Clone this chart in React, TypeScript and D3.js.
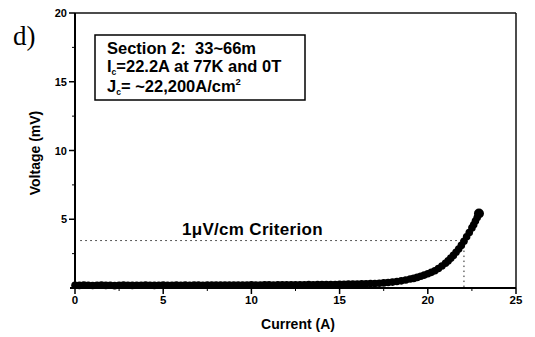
import React from "react";
import * as d3 from "d3";

const current: number[] = [
  0, 0.25, 0.5, 0.75, 1, 1.25, 1.5, 1.75, 2, 2.25, 2.5, 2.75, 3, 3.25, 3.5, 3.75,
  4, 4.25, 4.5, 4.75, 5, 5.25, 5.5, 5.75, 6, 6.25, 6.5, 6.75, 7, 7.25, 7.5, 7.75,
  8, 8.25, 8.5, 8.75, 9, 9.25, 9.5, 9.75, 10, 10.25, 10.5, 10.75, 11, 11.25, 11.5, 11.75,
  12, 12.25, 12.5, 12.75, 13, 13.25, 13.5, 13.75, 14, 14.25, 14.5, 14.75, 15, 15.25, 15.5, 15.75,
  16, 16.25, 16.5, 16.75, 17, 17.25, 17.5, 17.75, 18, 18.25, 18.5, 18.75, 19, 19.2, 19.4, 19.6,
  19.8, 20, 20.2, 20.4, 20.6, 20.8, 21, 21.15, 21.3, 21.45, 21.6, 21.75, 21.9, 22.05, 22.2, 22.35,
  22.5, 22.6, 22.7, 22.8, 22.9,
];
const voltage: number[] = [
  0.2, 0.19, 0.21, 0.2, 0.18, 0.2, 0.21, 0.19, 0.2, 0.17, 0.2, 0.21, 0.2, 0.19, 0.2, 0.2,
  0.21, 0.2, 0.19, 0.2, 0.21, 0.2, 0.2, 0.21, 0.2, 0.21, 0.2, 0.21, 0.21, 0.2, 0.21, 0.22,
  0.21, 0.22, 0.21, 0.22, 0.22, 0.21, 0.22, 0.22, 0.23, 0.22, 0.22, 0.23, 0.23, 0.22, 0.23, 0.23,
  0.24, 0.23, 0.24, 0.24, 0.24, 0.25, 0.24, 0.25, 0.25, 0.26, 0.25, 0.26, 0.27, 0.27, 0.28, 0.28,
  0.29, 0.3, 0.31, 0.32, 0.33, 0.35, 0.37, 0.4, 0.43, 0.47, 0.52, 0.58, 0.65, 0.7, 0.77, 0.85,
  0.94, 1.04, 1.14, 1.26, 1.42, 1.6, 1.8, 1.97, 2.17, 2.37, 2.6, 2.84, 3.1, 3.4, 3.72, 4.04,
  4.37, 4.6, 4.87, 5.12, 5.42,
];

const xTicks: number[] = [0, 5, 10, 15, 20, 25];
const yTicks: number[] = [5, 10, 15, 20];
const xMinor: number[] = [2.5, 7.5, 12.5, 17.5, 22.5];
const yMinor: number[] = [2.5, 7.5, 12.5, 17.5];

const criterionV = 3.45;
const criterionI = 22.05;

export default function App() {
  const x = d3.scaleLinear().domain([0, 25]).range([75, 516]);
  const y = d3.scaleLinear().domain([0, 20]).range([288, 13]);
  const font = "Arial, 'Liberation Sans', Helvetica, sans-serif";
  const pts = current.map((c, i) => ({ c, v: voltage[i] }));

  return (
    <svg
      width={535}
      height={337}
      style={{ position: "fixed", left: 0, top: 0, background: "#fff" }}
      fontFamily={font}
    >
      <rect x={0} y={0} width={535} height={337} fill="#fff" />
      {/* frame */}
      <line x1={x(0)} x2={x(25)} y1={y(20)} y2={y(20)} stroke="#111" strokeWidth={1.5} />
      <line x1={x(25)} x2={x(25)} y1={y(20)} y2={y(0)} stroke="#111" strokeWidth={1.5} />
      <line x1={x(0)} x2={x(0)} y1={y(20)} y2={y(0)} stroke="#000" strokeWidth={2} />
      <line x1={x(0) - 5} x2={x(25)} y1={y(0)} y2={y(0)} stroke="#000" strokeWidth={2} />

      {/* y ticks */}
      {yTicks.map((t) => (
        <g key={"yt" + t}>
          <line x1={x(0) - 6} x2={x(0)} y1={y(t)} y2={y(t)} stroke="#000" strokeWidth={1.5} />
          <text x={x(0) - 8} y={y(t) + 4} textAnchor="end" fontSize={11} fontWeight="bold">
            {t}
          </text>
        </g>
      ))}
      {yMinor.map((t) => (
        <line key={"ym" + t} x1={x(0) - 3} x2={x(0)} y1={y(t)} y2={y(t)} stroke="#000" strokeWidth={1} />
      ))}
      {/* x ticks */}
      {xTicks.map((t) => (
        <g key={"xt" + t}>
          <line x1={x(t)} x2={x(t)} y1={y(0)} y2={y(0) + 6} stroke="#000" strokeWidth={1.5} />
          <text x={x(t)} y={y(0) + 16} textAnchor="middle" fontSize={11.5} fontWeight="bold">
            {t}
          </text>
        </g>
      ))}
      {xMinor.map((t) => (
        <line key={"xm" + t} x1={x(t)} x2={x(t)} y1={y(0)} y2={y(0) + 3} stroke="#000" strokeWidth={1} />
      ))}

      {/* axis titles */}
      <text x={298} y={329} textAnchor="middle" fontSize={14} fontWeight="bold">
        Current (A)
      </text>
      <text
        transform="translate(40,153) rotate(-90)"
        textAnchor="middle"
        fontSize={14}
        fontWeight="bold"
      >
        Voltage (mV)
      </text>

      {/* criterion */}
      <line
        x1={x(0.3)}
        x2={x(criterionI)}
        y1={y(criterionV)}
        y2={y(criterionV)}
        stroke="#222"
        strokeWidth={1}
        strokeDasharray="1.5,3.5"
      />
      <line
        x1={x(criterionI)}
        x2={x(criterionI)}
        y1={y(criterionV)}
        y2={y(0)}
        stroke="#222"
        strokeWidth={1}
        strokeDasharray="1.5,3.5"
      />
      <text x={182} y={235} fontSize={17} fontWeight="bold" letterSpacing={0.3}>
        1μV/cm Criterion
      </text>

      {/* data */}
      {pts.map((p, i) => (
        <circle key={i} cx={x(p.c)} cy={y(p.v)} r={i === pts.length - 1 ? 5 : 3.8} fill="#000" />
      ))}

      {/* info box */}
      <rect x={95} y={35} width={210} height={65} fill="#fff" stroke="#000" strokeWidth={1.5} />
      <text x={107} y={54} fontSize={16.5} fontWeight="bold">
        Section 2:{"\u00a0\u00a0"}33~66m
      </text>
      <text x={107} y={72} fontSize={16.5} fontWeight="bold">
        I<tspan fontSize={8.5} dy={3}>c</tspan>
        <tspan dy={-3}>=22.2A at 77K and 0T</tspan>
      </text>
      <text x={107} y={92} fontSize={16.5} fontWeight="bold">
        J<tspan fontSize={8.5} dy={3}>c</tspan>
        <tspan dy={-3}>= ~22,200A/cm</tspan>
        <tspan fontSize={9.5} dy={-7}>2</tspan>
      </text>

      {/* panel label */}
      <text x={13} y={45} fontSize={27} fontFamily="'Liberation Serif', 'DejaVu Serif', serif">
        d)
      </text>
    </svg>
  );
}
